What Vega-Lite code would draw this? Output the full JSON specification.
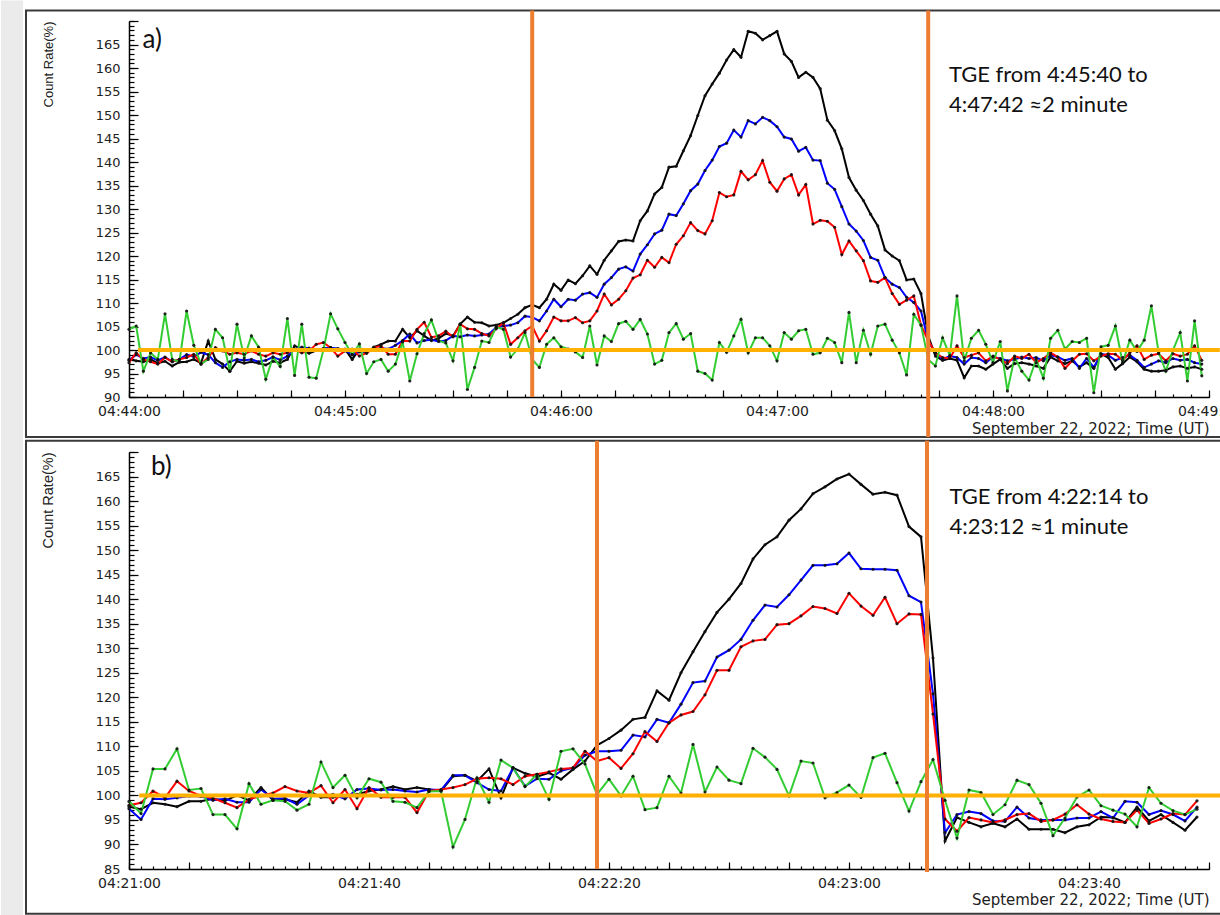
{
"$schema": "https://vega.github.io/schema/vega-lite/v6.json",
"background": "#ffffff",
"padding": {"left": 0, "top": 0, "right": 0, "bottom": 0},
"config": {
  "view": {"stroke": null},
  "axis": {"grid": false, "labelFont": "DejaVu Sans", "labelFontSize": 13, "labelColor": "#222222", "titleFont": "Liberation Sans", "titleFontWeight": "normal", "titleFontSize": 13, "titleColor": "#222222", "domainColor": "#000000", "domainWidth": 1.5, "tickColor": "#000000", "tickWidth": 1.2, "labelFlush": false, "labelOverlap": false}
},
"datasets": {
"a": [
{"t":"2022-09-22T04:44:00Z","black":98.0,"blue":97.8,"red":97.3,"green":104.4},
{"t":"2022-09-22T04:44:02Z","black":97.7,"blue":99.0,"red":99.4,"green":105.1},
{"t":"2022-09-22T04:44:04Z","black":97.5,"blue":98.2,"red":98.0,"green":95.5},
{"t":"2022-09-22T04:44:06Z","black":98.0,"blue":98.5,"red":97.5,"green":99.4},
{"t":"2022-09-22T04:44:08Z","black":97.2,"blue":97.8,"red":97.0,"green":98.0},
{"t":"2022-09-22T04:44:10Z","black":97.6,"blue":98.5,"red":98.4,"green":107.7},
{"t":"2022-09-22T04:44:12Z","black":96.6,"blue":97.5,"red":97.5,"green":98.0},
{"t":"2022-09-22T04:44:14Z","black":97.4,"blue":98.0,"red":98.0,"green":97.5},
{"t":"2022-09-22T04:44:16Z","black":97.5,"blue":99.0,"red":98.4,"green":108.3},
{"t":"2022-09-22T04:44:18Z","black":98.0,"blue":98.6,"red":99.1,"green":101.0},
{"t":"2022-09-22T04:44:20Z","black":97.2,"blue":99.5,"red":97.0,"green":97.0},
{"t":"2022-09-22T04:44:22Z","black":101.9,"blue":99.0,"red":98.4,"green":98.0},
{"t":"2022-09-22T04:44:24Z","black":98.0,"blue":97.3,"red":100.5,"green":104.4},
{"t":"2022-09-22T04:44:26Z","black":97.0,"blue":96.3,"red":99.8,"green":102.6},
{"t":"2022-09-22T04:44:28Z","black":95.5,"blue":97.5,"red":99.1,"green":95.5},
{"t":"2022-09-22T04:44:30Z","black":97.6,"blue":98.0,"red":99.4,"green":105.5},
{"t":"2022-09-22T04:44:32Z","black":97.2,"blue":97.8,"red":99.1,"green":98.3},
{"t":"2022-09-22T04:44:34Z","black":97.5,"blue":98.0,"red":99.8,"green":103.0},
{"t":"2022-09-22T04:44:36Z","black":97.2,"blue":97.5,"red":99.1,"green":100.6},
{"t":"2022-09-22T04:44:38Z","black":96.8,"blue":97.8,"red":98.7,"green":93.8},
{"t":"2022-09-22T04:44:40Z","black":97.6,"blue":98.5,"red":99.4,"green":98.5},
{"t":"2022-09-22T04:44:42Z","black":97.3,"blue":97.9,"red":99.1,"green":96.5},
{"t":"2022-09-22T04:44:44Z","black":98.0,"blue":98.7,"red":99.4,"green":106.7},
{"t":"2022-09-22T04:44:46Z","black":100.9,"blue":100.2,"red":100.2,"green":94.6},
{"t":"2022-09-22T04:44:48Z","black":100.2,"blue":100.6,"red":99.4,"green":105.5},
{"t":"2022-09-22T04:44:50Z","black":99.3,"blue":100.4,"red":99.8,"green":94.2},
{"t":"2022-09-22T04:44:52Z","black":99.9,"blue":100.0,"red":101.2,"green":94.0},
{"t":"2022-09-22T04:44:54Z","black":100.2,"blue":100.3,"red":101.6,"green":100.0},
{"t":"2022-09-22T04:44:56Z","black":100.5,"blue":100.5,"red":100.5,"green":107.7},
{"t":"2022-09-22T04:44:58Z","black":99.9,"blue":100.3,"red":98.7,"green":104.5},
{"t":"2022-09-22T04:45:00Z","black":100.2,"blue":100.0,"red":99.8,"green":101.6},
{"t":"2022-09-22T04:45:02Z","black":98.0,"blue":99.0,"red":100.2,"green":99.0},
{"t":"2022-09-22T04:45:04Z","black":100.2,"blue":99.6,"red":98.7,"green":101.3},
{"t":"2022-09-22T04:45:06Z","black":99.3,"blue":99.8,"red":99.4,"green":95.0},
{"t":"2022-09-22T04:45:08Z","black":100.6,"blue":100.0,"red":100.5,"green":97.5},
{"t":"2022-09-22T04:45:10Z","black":101.2,"blue":100.4,"red":100.9,"green":98.0},
{"t":"2022-09-22T04:45:12Z","black":101.9,"blue":100.2,"red":99.1,"green":95.5},
{"t":"2022-09-22T04:45:14Z","black":101.9,"blue":101.0,"red":99.1,"green":97.0},
{"t":"2022-09-22T04:45:16Z","black":104.4,"blue":102.0,"red":101.9,"green":101.7},
{"t":"2022-09-22T04:45:18Z","black":102.6,"blue":103.4,"red":101.9,"green":93.4},
{"t":"2022-09-22T04:45:20Z","black":104.1,"blue":101.5,"red":104.4,"green":99.2},
{"t":"2022-09-22T04:45:22Z","black":103.0,"blue":102.0,"red":105.9,"green":103.5},
{"t":"2022-09-22T04:45:24Z","black":102.0,"blue":102.2,"red":102.7,"green":106.4},
{"t":"2022-09-22T04:45:26Z","black":102.5,"blue":101.8,"red":103.0,"green":102.0},
{"t":"2022-09-22T04:45:28Z","black":103.5,"blue":102.0,"red":104.0,"green":101.5},
{"t":"2022-09-22T04:45:30Z","black":103.0,"blue":103.0,"red":102.8,"green":97.7},
{"t":"2022-09-22T04:45:32Z","black":105.5,"blue":102.8,"red":105.5,"green":105.5},
{"t":"2022-09-22T04:45:34Z","black":107.0,"blue":103.2,"red":104.5,"green":91.6},
{"t":"2022-09-22T04:45:36Z","black":105.9,"blue":103.0,"red":104.4,"green":96.3},
{"t":"2022-09-22T04:45:38Z","black":105.8,"blue":103.2,"red":103.5,"green":101.9},
{"t":"2022-09-22T04:45:40Z","black":105.1,"blue":103.4,"red":103.0,"green":101.6},
{"t":"2022-09-22T04:45:42Z","black":105.3,"blue":104.8,"red":104.5,"green":104.9},
{"t":"2022-09-22T04:45:44Z","black":105.8,"blue":105.1,"red":105.8,"green":104.4},
{"t":"2022-09-22T04:45:46Z","black":106.7,"blue":105.3,"red":101.2,"green":98.5},
{"t":"2022-09-22T04:45:48Z","black":107.6,"blue":105.8,"red":102.6,"green":100.2},
{"t":"2022-09-22T04:45:50Z","black":109.0,"blue":107.2,"red":104.1,"green":103.7},
{"t":"2022-09-22T04:45:52Z","black":109.6,"blue":107.0,"red":105.1,"green":98.0},
{"t":"2022-09-22T04:45:54Z","black":109.0,"blue":106.2,"red":101.9,"green":96.3},
{"t":"2022-09-22T04:45:56Z","black":110.8,"blue":108.3,"red":104.1,"green":101.2},
{"t":"2022-09-22T04:45:58Z","black":114.0,"blue":110.8,"red":107.0,"green":102.6},
{"t":"2022-09-22T04:46:00Z","black":112.7,"blue":109.2,"red":106.2,"green":100.7},
{"t":"2022-09-22T04:46:02Z","black":114.9,"blue":110.8,"red":106.2,"green":100.2},
{"t":"2022-09-22T04:46:04Z","black":114.1,"blue":110.6,"red":106.9,"green":99.6},
{"t":"2022-09-22T04:46:06Z","black":115.8,"blue":111.9,"red":105.8,"green":98.4},
{"t":"2022-09-22T04:46:08Z","black":117.9,"blue":112.2,"red":106.2,"green":105.1},
{"t":"2022-09-22T04:46:10Z","black":116.1,"blue":111.2,"red":108.3,"green":96.8},
{"t":"2022-09-22T04:46:12Z","black":119.1,"blue":114.0,"red":111.9,"green":103.0},
{"t":"2022-09-22T04:46:14Z","black":121.1,"blue":115.4,"red":109.6,"green":101.8},
{"t":"2022-09-22T04:46:16Z","black":123.1,"blue":117.2,"red":110.8,"green":105.6},
{"t":"2022-09-22T04:46:18Z","black":123.4,"blue":117.7,"red":112.6,"green":106.1},
{"t":"2022-09-22T04:46:20Z","black":123.2,"blue":116.8,"red":115.3,"green":104.4},
{"t":"2022-09-22T04:46:22Z","black":127.5,"blue":120.4,"red":116.0,"green":106.5},
{"t":"2022-09-22T04:46:24Z","black":129.6,"blue":122.4,"red":119.1,"green":103.4},
{"t":"2022-09-22T04:46:26Z","black":133.2,"blue":124.7,"red":117.6,"green":97.0},
{"t":"2022-09-22T04:46:28Z","black":134.6,"blue":125.5,"red":119.7,"green":97.8},
{"t":"2022-09-22T04:46:30Z","black":138.9,"blue":128.9,"red":118.6,"green":103.7},
{"t":"2022-09-22T04:46:32Z","black":139.1,"blue":128.6,"red":122.5,"green":105.6},
{"t":"2022-09-22T04:46:34Z","black":142.4,"blue":131.1,"red":124.3,"green":102.3},
{"t":"2022-09-22T04:46:36Z","black":145.6,"blue":133.9,"red":127.1,"green":103.5},
{"t":"2022-09-22T04:46:38Z","black":149.9,"blue":135.3,"red":125.4,"green":95.5},
{"t":"2022-09-22T04:46:40Z","black":154.1,"blue":138.2,"red":124.7,"green":95.0},
{"t":"2022-09-22T04:46:42Z","black":156.6,"blue":140.4,"red":127.5,"green":93.6},
{"t":"2022-09-22T04:46:44Z","black":158.9,"blue":143.3,"red":133.5,"green":101.6},
{"t":"2022-09-22T04:46:46Z","black":161.7,"blue":144.0,"red":132.6,"green":99.5},
{"t":"2022-09-22T04:46:48Z","black":163.9,"blue":146.8,"red":133.0,"green":103.0},
{"t":"2022-09-22T04:46:50Z","black":162.3,"blue":145.3,"red":138.0,"green":106.5},
{"t":"2022-09-22T04:46:52Z","black":167.8,"blue":148.8,"red":136.2,"green":99.4},
{"t":"2022-09-22T04:46:54Z","black":167.4,"blue":148.1,"red":137.3,"green":102.6},
{"t":"2022-09-22T04:46:56Z","black":166.0,"blue":149.5,"red":140.3,"green":102.6},
{"t":"2022-09-22T04:46:58Z","black":166.9,"blue":148.8,"red":135.7,"green":100.9},
{"t":"2022-09-22T04:47:00Z","black":167.8,"blue":147.5,"red":133.8,"green":97.7},
{"t":"2022-09-22T04:47:02Z","black":163.0,"blue":145.3,"red":136.4,"green":103.7},
{"t":"2022-09-22T04:47:04Z","black":161.4,"blue":144.9,"red":137.3,"green":102.3},
{"t":"2022-09-22T04:47:06Z","black":158.0,"blue":142.3,"red":133.0,"green":104.1},
{"t":"2022-09-22T04:47:08Z","black":159.1,"blue":143.1,"red":135.2,"green":104.4},
{"t":"2022-09-22T04:47:10Z","black":158.0,"blue":140.4,"red":126.8,"green":99.1},
{"t":"2022-09-22T04:47:12Z","black":155.6,"blue":140.3,"red":127.6,"green":99.4},
{"t":"2022-09-22T04:47:14Z","black":148.9,"blue":135.5,"red":127.4,"green":102.5},
{"t":"2022-09-22T04:47:16Z","black":146.7,"blue":134.2,"red":126.1,"green":101.6},
{"t":"2022-09-22T04:47:18Z","black":142.8,"blue":130.5,"red":120.3,"green":97.3},
{"t":"2022-09-22T04:47:20Z","black":136.7,"blue":126.8,"red":123.2,"green":108.0},
{"t":"2022-09-22T04:47:22Z","black":134.0,"blue":125.3,"red":121.1,"green":97.3},
{"t":"2022-09-22T04:47:24Z","black":131.8,"blue":123.3,"red":119.0,"green":104.2},
{"t":"2022-09-22T04:47:26Z","black":128.9,"blue":119.7,"red":114.7,"green":99.1},
{"t":"2022-09-22T04:47:28Z","black":126.4,"blue":119.1,"red":114.4,"green":105.1},
{"t":"2022-09-22T04:47:30Z","black":121.3,"blue":115.4,"red":115.4,"green":105.5},
{"t":"2022-09-22T04:47:32Z","black":120.0,"blue":114.0,"red":112.0,"green":102.1},
{"t":"2022-09-22T04:47:34Z","black":119.0,"blue":113.3,"red":109.7,"green":99.4},
{"t":"2022-09-22T04:47:36Z","black":114.9,"blue":111.2,"red":110.6,"green":94.7},
{"t":"2022-09-22T04:47:38Z","black":115.1,"blue":110.1,"red":111.5,"green":107.6},
{"t":"2022-09-22T04:47:40Z","black":112.0,"blue":108.3,"red":105.3,"green":105.3},
{"t":"2022-09-22T04:47:42Z","black":103.0,"blue":101.9,"red":102.0,"green":98.0},
{"t":"2022-09-22T04:47:44Z","black":98.7,"blue":99.4,"red":99.4,"green":96.6},
{"t":"2022-09-22T04:47:46Z","black":97.8,"blue":98.0,"red":98.4,"green":102.6},
{"t":"2022-09-22T04:47:48Z","black":98.2,"blue":98.7,"red":98.2,"green":98.8},
{"t":"2022-09-22T04:47:50Z","black":97.8,"blue":98.4,"red":100.9,"green":111.5},
{"t":"2022-09-22T04:47:52Z","black":94.1,"blue":97.0,"red":98.4,"green":97.7},
{"t":"2022-09-22T04:47:54Z","black":96.6,"blue":98.4,"red":98.9,"green":102.5},
{"t":"2022-09-22T04:47:56Z","black":96.6,"blue":98.2,"red":99.4,"green":104.2},
{"t":"2022-09-22T04:47:58Z","black":95.9,"blue":97.3,"red":97.7,"green":101.2},
{"t":"2022-09-22T04:48:00Z","black":97.0,"blue":98.5,"red":98.7,"green":97.3},
{"t":"2022-09-22T04:48:02Z","black":98.0,"blue":98.2,"red":98.0,"green":101.8},
{"t":"2022-09-22T04:48:04Z","black":96.1,"blue":97.7,"red":97.1,"green":91.3},
{"t":"2022-09-22T04:48:06Z","black":97.1,"blue":98.0,"red":98.7,"green":98.4},
{"t":"2022-09-22T04:48:08Z","black":97.3,"blue":98.5,"red":98.2,"green":95.5},
{"t":"2022-09-22T04:48:10Z","black":97.0,"blue":98.2,"red":99.1,"green":93.6},
{"t":"2022-09-22T04:48:12Z","black":96.6,"blue":98.4,"red":97.3,"green":98.0},
{"t":"2022-09-22T04:48:14Z","black":96.1,"blue":97.7,"red":98.2,"green":94.0},
{"t":"2022-09-22T04:48:16Z","black":98.5,"blue":98.9,"red":99.4,"green":102.5},
{"t":"2022-09-22T04:48:18Z","black":97.7,"blue":98.5,"red":98.5,"green":104.2},
{"t":"2022-09-22T04:48:20Z","black":97.1,"blue":97.8,"red":96.1,"green":100.2},
{"t":"2022-09-22T04:48:22Z","black":97.7,"blue":98.2,"red":97.7,"green":101.8},
{"t":"2022-09-22T04:48:24Z","black":96.4,"blue":96.1,"red":99.1,"green":101.6},
{"t":"2022-09-22T04:48:26Z","black":97.3,"blue":98.2,"red":99.2,"green":102.5},
{"t":"2022-09-22T04:48:28Z","black":96.1,"blue":96.3,"red":97.7,"green":90.9},
{"t":"2022-09-22T04:48:30Z","black":99.2,"blue":99.2,"red":98.7,"green":100.7},
{"t":"2022-09-22T04:48:32Z","black":98.4,"blue":98.9,"red":99.2,"green":101.0},
{"t":"2022-09-22T04:48:34Z","black":95.9,"blue":97.8,"red":99.1,"green":105.1},
{"t":"2022-09-22T04:48:36Z","black":97.1,"blue":98.4,"red":97.8,"green":97.3},
{"t":"2022-09-22T04:48:38Z","black":98.5,"blue":98.9,"red":99.4,"green":102.1},
{"t":"2022-09-22T04:48:40Z","black":97.5,"blue":97.8,"red":100.9,"green":99.7},
{"t":"2022-09-22T04:48:42Z","black":95.9,"blue":96.3,"red":98.0,"green":102.1},
{"t":"2022-09-22T04:48:44Z","black":95.5,"blue":97.0,"red":98.9,"green":109.4},
{"t":"2022-09-22T04:48:46Z","black":95.5,"blue":97.7,"red":99.2,"green":99.5},
{"t":"2022-09-22T04:48:48Z","black":95.7,"blue":97.3,"red":97.7,"green":95.5},
{"t":"2022-09-22T04:48:50Z","black":96.4,"blue":98.2,"red":99.2,"green":100.0},
{"t":"2022-09-22T04:48:52Z","black":96.6,"blue":97.8,"red":98.7,"green":103.7},
{"t":"2022-09-22T04:48:54Z","black":96.1,"blue":98.0,"red":99.1,"green":93.4},
{"t":"2022-09-22T04:48:56Z","black":96.4,"blue":97.3,"red":100.9,"green":106.2},
{"t":"2022-09-22T04:48:58Z","black":95.9,"blue":97.0,"red":97.8,"green":94.5}
],
"b": [
{"t":"2022-09-22T04:21:00Z","black":97.7,"blue":97.3,"red":98.0,"green":98.8},
{"t":"2022-09-22T04:21:02Z","black":97.2,"blue":95.1,"red":98.5,"green":96.3},
{"t":"2022-09-22T04:21:04Z","black":98.5,"blue":99.3,"red":100.9,"green":105.4},
{"t":"2022-09-22T04:21:06Z","black":98.2,"blue":99.2,"red":99.5,"green":105.4},
{"t":"2022-09-22T04:21:08Z","black":97.7,"blue":99.5,"red":102.9,"green":109.5},
{"t":"2022-09-22T04:21:10Z","black":98.8,"blue":99.9,"red":100.9,"green":101.1},
{"t":"2022-09-22T04:21:12Z","black":98.8,"blue":99.8,"red":99.9,"green":101.4},
{"t":"2022-09-22T04:21:14Z","black":99.3,"blue":99.0,"red":99.4,"green":96.1},
{"t":"2022-09-22T04:21:16Z","black":98.9,"blue":99.3,"red":98.5,"green":96.1},
{"t":"2022-09-22T04:21:18Z","black":100.0,"blue":98.6,"red":97.5,"green":93.2},
{"t":"2022-09-22T04:21:20Z","black":99.0,"blue":98.6,"red":99.2,"green":102.4},
{"t":"2022-09-22T04:21:22Z","black":101.6,"blue":101.2,"red":99.9,"green":98.2},
{"t":"2022-09-22T04:21:24Z","black":99.0,"blue":99.3,"red":100.5,"green":99.0},
{"t":"2022-09-22T04:21:26Z","black":99.2,"blue":99.4,"red":101.8,"green":98.8},
{"t":"2022-09-22T04:21:28Z","black":98.6,"blue":98.2,"red":100.9,"green":97.0},
{"t":"2022-09-22T04:21:30Z","black":100.9,"blue":100.0,"red":100.5,"green":98.2},
{"t":"2022-09-22T04:21:32Z","black":99.6,"blue":99.9,"red":102.0,"green":106.8},
{"t":"2022-09-22T04:21:34Z","black":99.6,"blue":100.2,"red":98.5,"green":101.6},
{"t":"2022-09-22T04:21:36Z","black":99.9,"blue":99.3,"red":101.2,"green":104.1},
{"t":"2022-09-22T04:21:38Z","black":100.2,"blue":101.2,"red":97.3,"green":99.5},
{"t":"2022-09-22T04:21:40Z","black":100.9,"blue":101.4,"red":101.6,"green":103.4},
{"t":"2022-09-22T04:21:42Z","black":101.2,"blue":101.1,"red":99.6,"green":102.7},
{"t":"2022-09-22T04:21:44Z","black":101.8,"blue":101.2,"red":99.6,"green":98.8},
{"t":"2022-09-22T04:21:46Z","black":101.2,"blue":100.9,"red":99.6,"green":98.6},
{"t":"2022-09-22T04:21:48Z","black":101.6,"blue":100.7,"red":96.5,"green":97.5},
{"t":"2022-09-22T04:21:50Z","black":101.2,"blue":101.2,"red":100.9,"green":100.8},
{"t":"2022-09-22T04:21:52Z","black":100.9,"blue":101.1,"red":101.2,"green":100.9},
{"t":"2022-09-22T04:21:54Z","black":103.9,"blue":104.1,"red":101.6,"green":89.5},
{"t":"2022-09-22T04:21:56Z","black":104.1,"blue":104.1,"red":102.2,"green":95.1},
{"t":"2022-09-22T04:21:58Z","black":102.9,"blue":102.6,"red":103.4,"green":103.6},
{"t":"2022-09-22T04:22:00Z","black":105.4,"blue":101.2,"red":103.6,"green":98.6},
{"t":"2022-09-22T04:22:02Z","black":99.5,"blue":100.9,"red":103.4,"green":107.2},
{"t":"2022-09-22T04:22:04Z","black":105.6,"blue":105.6,"red":102.2,"green":105.6},
{"t":"2022-09-22T04:22:06Z","black":104.5,"blue":101.9,"red":103.9,"green":101.8},
{"t":"2022-09-22T04:22:08Z","black":103.8,"blue":103.4,"red":104.3,"green":104.3},
{"t":"2022-09-22T04:22:10Z","black":104.6,"blue":103.3,"red":104.8,"green":99.2},
{"t":"2022-09-22T04:22:12Z","black":103.3,"blue":105.0,"red":105.4,"green":109.0},
{"t":"2022-09-22T04:22:14Z","black":105.3,"blue":105.6,"red":105.6,"green":109.5},
{"t":"2022-09-22T04:22:16Z","black":107.0,"blue":108.2,"red":109.0,"green":106.4},
{"t":"2022-09-22T04:22:18Z","black":110.2,"blue":109.0,"red":107.0,"green":100.2},
{"t":"2022-09-22T04:22:20Z","black":111.6,"blue":109.0,"red":107.7,"green":103.3},
{"t":"2022-09-22T04:22:22Z","black":113.3,"blue":109.2,"red":105.5,"green":99.9},
{"t":"2022-09-22T04:22:24Z","black":115.5,"blue":112.3,"red":108.5,"green":103.9},
{"t":"2022-09-22T04:22:26Z","black":115.9,"blue":111.9,"red":113.0,"green":97.1},
{"t":"2022-09-22T04:22:28Z","black":121.3,"blue":115.5,"red":111.0,"green":97.5},
{"t":"2022-09-22T04:22:30Z","black":119.4,"blue":114.8,"red":114.8,"green":103.9},
{"t":"2022-09-22T04:22:32Z","black":125.0,"blue":118.6,"red":116.4,"green":100.5},
{"t":"2022-09-22T04:22:34Z","black":129.3,"blue":123.0,"red":117.1,"green":110.4},
{"t":"2022-09-22T04:22:36Z","black":133.4,"blue":123.3,"red":120.5,"green":100.7},
{"t":"2022-09-22T04:22:38Z","black":137.3,"blue":128.2,"red":125.5,"green":105.8},
{"t":"2022-09-22T04:22:40Z","black":140.0,"blue":129.6,"red":125.5,"green":103.1},
{"t":"2022-09-22T04:22:42Z","black":143.2,"blue":131.8,"red":130.3,"green":102.4},
{"t":"2022-09-22T04:22:44Z","black":148.2,"blue":135.7,"red":131.5,"green":109.6},
{"t":"2022-09-22T04:22:46Z","black":151.1,"blue":138.8,"red":131.8,"green":107.8},
{"t":"2022-09-22T04:22:48Z","black":152.7,"blue":138.4,"red":134.8,"green":105.3},
{"t":"2022-09-22T04:22:50Z","black":156.1,"blue":140.9,"red":135.0,"green":99.9},
{"t":"2022-09-22T04:22:52Z","black":158.4,"blue":143.9,"red":136.6,"green":107.0},
{"t":"2022-09-22T04:22:54Z","black":161.5,"blue":146.9,"red":138.5,"green":106.6},
{"t":"2022-09-22T04:22:56Z","black":162.9,"blue":146.9,"red":138.1,"green":99.5},
{"t":"2022-09-22T04:22:58Z","black":164.5,"blue":147.2,"red":137.1,"green":100.6},
{"t":"2022-09-22T04:23:00Z","black":165.5,"blue":149.4,"red":141.2,"green":102.1},
{"t":"2022-09-22T04:23:02Z","black":163.4,"blue":146.2,"red":138.6,"green":99.6},
{"t":"2022-09-22T04:23:04Z","black":161.4,"blue":146.1,"red":136.7,"green":107.7},
{"t":"2022-09-22T04:23:06Z","black":161.8,"blue":146.1,"red":140.4,"green":108.6},
{"t":"2022-09-22T04:23:08Z","black":161.2,"blue":145.9,"red":135.0,"green":102.6},
{"t":"2022-09-22T04:23:10Z","black":154.8,"blue":140.7,"red":137.0,"green":96.8},
{"t":"2022-09-22T04:23:12Z","black":152.7,"blue":139.4,"red":136.9,"green":102.8},
{"t":"2022-09-22T04:23:14Z","black":128.0,"blue":120.7,"red":116.6,"green":107.3},
{"t":"2022-09-22T04:23:16Z","black":90.7,"blue":92.4,"red":95.2,"green":99.0},
{"t":"2022-09-22T04:23:18Z","black":95.5,"blue":96.1,"red":92.7,"green":91.3},
{"t":"2022-09-22T04:23:20Z","black":94.5,"blue":96.7,"red":95.5,"green":101.1},
{"t":"2022-09-22T04:23:22Z","black":93.6,"blue":96.3,"red":95.0,"green":100.6},
{"t":"2022-09-22T04:23:24Z","black":94.3,"blue":94.8,"red":94.5,"green":96.1},
{"t":"2022-09-22T04:23:26Z","black":93.6,"blue":94.7,"red":95.0,"green":98.1},
{"t":"2022-09-22T04:23:28Z","black":95.2,"blue":97.6,"red":96.1,"green":103.1},
{"t":"2022-09-22T04:23:30Z","black":93.1,"blue":95.4,"red":96.3,"green":102.2},
{"t":"2022-09-22T04:23:32Z","black":93.1,"blue":95.0,"red":94.7,"green":98.4},
{"t":"2022-09-22T04:23:34Z","black":93.1,"blue":95.0,"red":95.0,"green":91.8},
{"t":"2022-09-22T04:23:36Z","black":92.4,"blue":95.0,"red":96.2,"green":95.4},
{"t":"2022-09-22T04:23:38Z","black":93.6,"blue":95.4,"red":98.1,"green":99.7},
{"t":"2022-09-22T04:23:40Z","black":94.0,"blue":95.4,"red":96.2,"green":101.1},
{"t":"2022-09-22T04:23:42Z","black":95.6,"blue":96.7,"red":95.2,"green":97.9},
{"t":"2022-09-22T04:23:44Z","black":95.5,"blue":95.4,"red":94.7,"green":97.0},
{"t":"2022-09-22T04:23:46Z","black":94.5,"blue":98.8,"red":94.5,"green":96.2},
{"t":"2022-09-22T04:23:48Z","black":97.6,"blue":98.6,"red":97.0,"green":93.6},
{"t":"2022-09-22T04:23:50Z","black":94.8,"blue":96.1,"red":94.3,"green":101.6},
{"t":"2022-09-22T04:23:52Z","black":96.1,"blue":96.9,"red":95.2,"green":98.4},
{"t":"2022-09-22T04:23:54Z","black":94.5,"blue":96.1,"red":96.3,"green":96.9},
{"t":"2022-09-22T04:23:56Z","black":92.9,"blue":94.8,"red":96.1,"green":96.1},
{"t":"2022-09-22T04:23:58Z","black":95.6,"blue":97.6,"red":98.9,"green":97.2}
]
},
"bounds": "flush",
"spacing": 55,
"vconcat": [
  {
    "width": 1080, "height": 376,
    "resolve": {"axis": {"x": "independent", "y": "independent"}},
    "layer": [
      {
        "data": {"values": [{}]},
        "mark": {"type": "rect", "color": "#ebebeb"},
        "encoding": {
          "x": {"datum": 1663821804444, "type": "temporal", "axis": null},
          "x2": {"datum": 1663821810556},
          "y": {"datum": 174.38, "type": "quantitative", "axis": null},
          "y2": {"datum": 81.05}
        }
      },
      {
        "data": {"values": [{}]},
        "mark": {"type": "rect", "filled": false, "color": "#3a3a3a", "strokeWidth": 2},
        "encoding": {
          "x": {"datum": 1663821811389, "type": "temporal", "axis": null},
          "x2": {"datum": 1663822144722},
          "y": {"datum": 172.25, "type": "quantitative", "axis": null},
          "y2": {"datum": 81.48}
        }
      },
      {
        "data": {"name": "a"},
        "transform": [{"fold": ["black", "blue", "red", "green"], "as": ["series", "value"]}],
        "mark": {"type": "line", "strokeWidth": 2},
        "encoding": {
          "x": {"field": "t", "type": "temporal",
                "scale": {"type": "utc", "nice": false, "domain": [1663821840000, 1663822140000]},
                "axis": {"orient": "bottom", "values": [1663821840000, 1663821900000, 1663821960000, 1663822020000, 1663822080000, 1663822140000],
                         "labelExpr": "utcFormat(datum.value, '%H:%M:%S')", "labelOverlap": false,
                         "ticks": false, "tickSize": 0, "labelPadding": 7, "labelFontSize": 14,
                         "title": "September 22, 2022; Time (UT)", "titleAnchor": "end", "titleFont": "DejaVu Sans", "titleFontSize": 15, "titlePadding": 3}},
          "y": {"field": "value", "type": "quantitative",
                "scale": {"domain": [90, 170], "nice": false, "zero": false},
                "axis": {"orient": "left", "values": [90, 95, 100, 105, 110, 115, 120, 125, 130, 135, 140, 145, 150, 155, 160, 165], "labelOverlap": false,
                         "ticks": false, "tickSize": 0, "labelPadding": 9,
                         "title": "Count Rate(%)", "titleAnchor": "end", "titlePadding": 40}},
          "color": {"field": "series", "type": "nominal", "legend": null,
                    "scale": {"domain": ["black", "blue", "red", "green"], "range": ["#000000", "#0000ff", "#ff0000", "#33cc33"]}}
        }
      },
      {
        "data": {"name": "a"},
        "transform": [{"fold": ["black", "blue", "red", "green"], "as": ["series", "value"]}],
        "mark": {"type": "point", "filled": true, "size": 10, "color": "#111111", "opacity": 0.9},
        "encoding": {
          "x": {"field": "t", "type": "temporal",
                "axis": {"orient": "bottom", "values": [1663821840000, 1663821855000, 1663821870000, 1663821885000, 1663821900000, 1663821915000, 1663821930000, 1663821945000, 1663821960000, 1663821975000, 1663821990000, 1663822005000, 1663822020000, 1663822035000, 1663822050000, 1663822065000, 1663822080000, 1663822095000, 1663822110000, 1663822125000, 1663822140000],
                         "labels": false, "domain": false, "tickSize": -7, "title": null}},
          "y": {"field": "value", "type": "quantitative",
                "axis": {"orient": "left", "tickCount": 16, "labels": false, "domain": false, "tickSize": -9, "title": null}}
        }
      },
      {
        "data": {"values": [{}]},
        "mark": {"type": "rule", "color": "#FFB000", "strokeWidth": 4},
        "encoding": {
          "x": {"datum": 1663821842500, "type": "temporal",
                "axis": {"orient": "bottom", "values": [1663821840000, 1663821845000, 1663821850000, 1663821855000, 1663821860000, 1663821865000, 1663821870000, 1663821875000, 1663821880000, 1663821885000, 1663821890000, 1663821895000, 1663821900000, 1663821905000, 1663821910000, 1663821915000, 1663821920000, 1663821925000, 1663821930000, 1663821935000, 1663821940000, 1663821945000, 1663821950000, 1663821955000, 1663821960000, 1663821965000, 1663821970000, 1663821975000, 1663821980000, 1663821985000, 1663821990000, 1663821995000, 1663822000000, 1663822005000, 1663822010000, 1663822015000, 1663822020000, 1663822025000, 1663822030000, 1663822035000, 1663822040000, 1663822045000, 1663822050000, 1663822055000, 1663822060000, 1663822065000, 1663822070000, 1663822075000, 1663822080000, 1663822085000, 1663822090000, 1663822095000, 1663822100000, 1663822105000, 1663822110000, 1663822115000, 1663822120000, 1663822125000, 1663822130000, 1663822135000, 1663822140000],
                         "labels": false, "domain": false, "tickSize": -3, "title": null}},
          "x2": {"datum": 1663822143000},
          "y": {"datum": 100, "type": "quantitative",
                "axis": {"orient": "left", "tickCount": 80, "labels": false, "domain": false, "tickSize": -5, "title": null}}
        }
      },
      {
        "data": {"values": [{}]},
        "mark": {"type": "rule", "color": "#ED7D31", "strokeWidth": 4},
        "encoding": {
          "x": {"datum": 1663821952000, "type": "temporal", "axis": null},
          "y": {"datum": 90, "type": "quantitative", "axis": null},
          "y2": {"datum": 172.25}
        }
      },
      {
        "data": {"values": [{}]},
        "mark": {"type": "rule", "color": "#ED7D31", "strokeWidth": 4},
        "encoding": {
          "x": {"datum": 1663822062000, "type": "temporal", "axis": null},
          "y": {"datum": 81.48, "type": "quantitative", "axis": null},
          "y2": {"datum": 172.25}
        }
      },
      {
        "data": {"values": [{}]},
        "mark": {"type": "text", "text": "a)", "font": "Lato", "fontSize": 26, "align": "left", "baseline": "alphabetic", "color": "#111111"},
        "encoding": {
          "x": {"datum": 1663821843750, "type": "temporal", "axis": null},
          "y": {"datum": 164.3, "type": "quantitative", "axis": null}
        }
      },
      {
        "data": {"values": [{}]},
        "mark": {"type": "text", "text": ["TGE from 4:45:40 to", "4:47:42 ≈2 minute"], "lineHeight": 30, "font": "Lato", "fontSize": 22, "align": "left", "baseline": "alphabetic", "color": "#111111"},
        "encoding": {
          "x": {"datum": 1663822067750, "type": "temporal", "axis": null},
          "y": {"datum": 157.0, "type": "quantitative", "axis": null}
        }
      }
    ]
  },
  {
    "width": 1080, "height": 417,
    "resolve": {"axis": {"x": "independent", "y": "independent"}},
    "layer": [
      {
        "data": {"values": [{}]},
        "mark": {"type": "rect", "color": "#ebebeb"},
        "encoding": {
          "x": {"datum": 1663820438667, "type": "temporal", "axis": null},
          "x2": {"datum": 1663820442333},
          "y": {"datum": 172.71, "type": "quantitative", "axis": null},
          "y2": {"datum": 75.48}
        }
      },
      {
        "data": {"values": [{}]},
        "mark": {"type": "rect", "filled": false, "color": "#3a3a3a", "strokeWidth": 2},
        "encoding": {
          "x": {"datum": 1663820442833, "type": "temporal", "axis": null},
          "x2": {"datum": 1663820642833},
          "y": {"datum": 172.3, "type": "quantitative", "axis": null},
          "y2": {"datum": 75.89}
        }
      },
      {
        "data": {"name": "b"},
        "transform": [{"fold": ["black", "blue", "red", "green"], "as": ["series", "value"]}],
        "mark": {"type": "line", "strokeWidth": 2},
        "encoding": {
          "x": {"field": "t", "type": "temporal",
                "scale": {"type": "utc", "nice": false, "domain": [1663820460000, 1663820640000]},
                "axis": {"orient": "bottom", "values": [1663820460000, 1663820500000, 1663820540000, 1663820580000, 1663820620000],
                         "labelExpr": "utcFormat(datum.value, '%H:%M:%S')", "labelOverlap": false,
                         "ticks": false, "tickSize": 0, "labelPadding": 7, "labelFontSize": 14,
                         "title": "September 22, 2022; Time (UT)", "titleAnchor": "end", "titleFont": "DejaVu Sans", "titleFontSize": 15, "titlePadding": 2}},
          "y": {"field": "value", "type": "quantitative",
                "scale": {"domain": [85, 170], "nice": false, "zero": false},
                "axis": {"orient": "left", "values": [85, 90, 95, 100, 105, 110, 115, 120, 125, 130, 135, 140, 145, 150, 155, 160, 165], "labelOverlap": false,
                         "ticks": false, "tickSize": 0, "labelPadding": 9,
                         "title": "Count Rate(%)", "titleAnchor": "end", "titlePadding": 40, "titleFontSize": 14.5}},
          "color": {"field": "series", "type": "nominal", "legend": null,
                    "scale": {"domain": ["black", "blue", "red", "green"], "range": ["#000000", "#0000ff", "#ff0000", "#33cc33"]}}
        }
      },
      {
        "data": {"name": "b"},
        "transform": [{"fold": ["black", "blue", "red", "green"], "as": ["series", "value"]}],
        "mark": {"type": "point", "filled": true, "size": 10, "color": "#111111", "opacity": 0.9},
        "encoding": {
          "x": {"field": "t", "type": "temporal",
                "axis": {"orient": "bottom", "values": [1663820460000, 1663820470000, 1663820480000, 1663820490000, 1663820500000, 1663820510000, 1663820520000, 1663820530000, 1663820540000, 1663820550000, 1663820560000, 1663820570000, 1663820580000, 1663820590000, 1663820600000, 1663820610000, 1663820620000, 1663820630000, 1663820640000],
                         "labels": false, "domain": false, "tickSize": -7, "title": null}},
          "y": {"field": "value", "type": "quantitative",
                "axis": {"orient": "left", "tickCount": 17, "labels": false, "domain": false, "tickSize": -9, "title": null}}
        }
      },
      {
        "data": {"values": [{}]},
        "mark": {"type": "rule", "color": "#FFB000", "strokeWidth": 4},
        "encoding": {
          "x": {"datum": 1663820461700, "type": "temporal",
                "axis": {"orient": "bottom", "values": [1663820460000, 1663820462000, 1663820464000, 1663820466000, 1663820468000, 1663820470000, 1663820472000, 1663820474000, 1663820476000, 1663820478000, 1663820480000, 1663820482000, 1663820484000, 1663820486000, 1663820488000, 1663820490000, 1663820492000, 1663820494000, 1663820496000, 1663820498000, 1663820500000, 1663820502000, 1663820504000, 1663820506000, 1663820508000, 1663820510000, 1663820512000, 1663820514000, 1663820516000, 1663820518000, 1663820520000, 1663820522000, 1663820524000, 1663820526000, 1663820528000, 1663820530000, 1663820532000, 1663820534000, 1663820536000, 1663820538000, 1663820540000, 1663820542000, 1663820544000, 1663820546000, 1663820548000, 1663820550000, 1663820552000, 1663820554000, 1663820556000, 1663820558000, 1663820560000, 1663820562000, 1663820564000, 1663820566000, 1663820568000, 1663820570000, 1663820572000, 1663820574000, 1663820576000, 1663820578000, 1663820580000, 1663820582000, 1663820584000, 1663820586000, 1663820588000, 1663820590000, 1663820592000, 1663820594000, 1663820596000, 1663820598000, 1663820600000, 1663820602000, 1663820604000, 1663820606000, 1663820608000, 1663820610000, 1663820612000, 1663820614000, 1663820616000, 1663820618000, 1663820620000, 1663820622000, 1663820624000, 1663820626000, 1663820628000, 1663820630000, 1663820632000, 1663820634000, 1663820636000, 1663820638000, 1663820640000],
                         "labels": false, "domain": false, "tickSize": -3, "title": null}},
          "x2": {"datum": 1663820642000},
          "y": {"datum": 100, "type": "quantitative",
                "axis": {"orient": "left", "tickCount": 85, "labels": false, "domain": false, "tickSize": -5, "title": null}}
        }
      },
      {
        "data": {"values": [{}]},
        "mark": {"type": "rule", "color": "#ED7D31", "strokeWidth": 4},
        "encoding": {
          "x": {"datum": 1663820538000, "type": "temporal", "axis": null},
          "y": {"datum": 85, "type": "quantitative", "axis": null},
          "y2": {"datum": 172.3}
        }
      },
      {
        "data": {"values": [{}]},
        "mark": {"type": "rule", "color": "#ED7D31", "strokeWidth": 4},
        "encoding": {
          "x": {"datum": 1663820593000, "type": "temporal", "axis": null},
          "y": {"datum": 84.4, "type": "quantitative", "axis": null},
          "y2": {"datum": 172.3}
        }
      },
      {
        "data": {"values": [{}]},
        "mark": {"type": "text", "text": "b)", "font": "Lato", "fontSize": 26, "align": "left", "baseline": "alphabetic", "color": "#111111"},
        "encoding": {
          "x": {"datum": 1663820463670, "type": "temporal", "axis": null},
          "y": {"datum": 165.3, "type": "quantitative", "axis": null}
        }
      },
      {
        "data": {"values": [{}]},
        "mark": {"type": "text", "text": ["TGE from 4:22:14 to", "4:23:12 ≈1 minute"], "lineHeight": 30, "font": "Lato", "fontSize": 22, "align": "left", "baseline": "alphabetic", "color": "#111111"},
        "encoding": {
          "x": {"datum": 1663820596750, "type": "temporal", "axis": null},
          "y": {"datum": 159.5, "type": "quantitative", "axis": null}
        }
      }
    ]
  }
]
}
